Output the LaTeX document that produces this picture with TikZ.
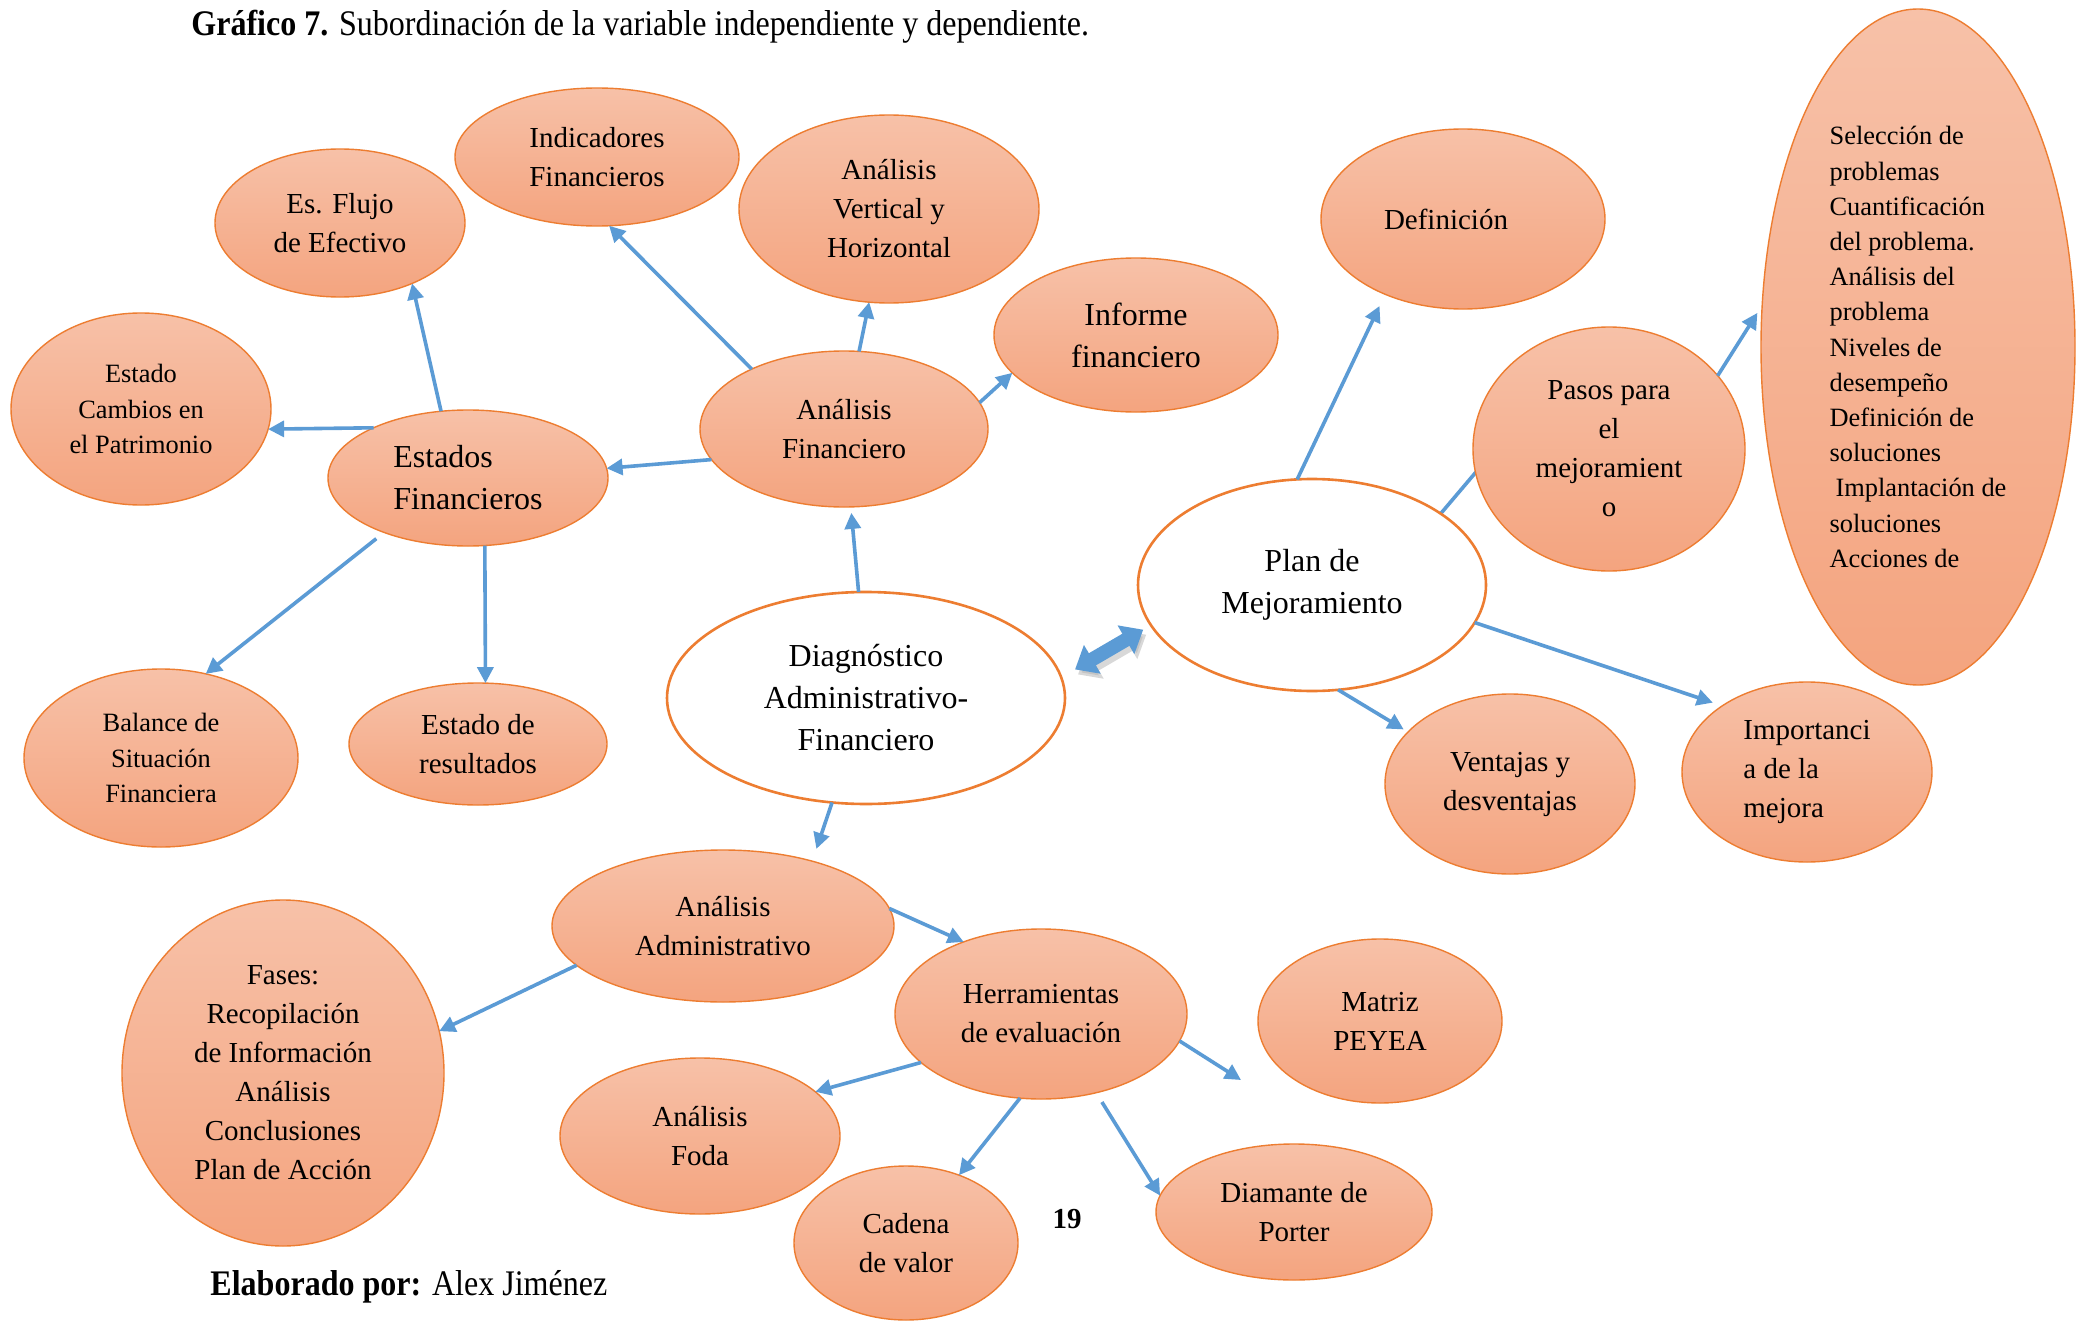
\documentclass[tikz,border=0pt]{standalone}
\usepackage{fontspec}
\setmainfont{Liberation Serif}
\newfontfamily\condserif[FakeStretch=0.89]{Liberation Serif}
\usetikzlibrary{shapes.geometric,arrows.meta,backgrounds}

\definecolor{peachtop}{HTML}{F7C1A8}
\definecolor{peachbot}{HTML}{F4A47F}
\definecolor{rimorange}{HTML}{ED7D31}
\definecolor{linkblue}{HTML}{5B9BD5}

\newcommand\fsbig{\fontsize{16}{21}\selectfont}
\newcommand\fsmid{\fontsize{14.5}{19.5}\selectfont}
\newcommand\fssmall{\fontsize{13.2}{17.6}\selectfont}

\tikzset{
  bub/.style={ellipse, draw=rimorange, line width=0.7pt,
    top color=peachtop, bottom color=peachbot,
    inner sep=0pt, outer sep=0pt, align=center, font=\fsmid},
  plainbub/.style={ellipse, draw=rimorange, line width=1.3pt, fill=white,
    inner sep=0pt, outer sep=0pt, align=center, font=\fsbig},
  sz/.style 2 args={minimum width=#1pt, minimum height=#2pt},
  link/.style={draw=linkblue, line width=1.8pt,
    -{Triangle[length=8pt,width=8pt]}},
  caption/.style={anchor=west, inner sep=0pt, font=\condserif\fontsize{18}{22}\selectfont},
}

\begin{document}
\begin{tikzpicture}[x=0.5pt, y=-0.5pt]
  \begin{scope}[on background layer]
    \fill[white] (0,0) rectangle (2084,1322);
  \end{scope}
  \useasboundingbox (0,0) rectangle (2084,1322);

  % captions
  \node[caption] (title) at (191,27) {\textbf{Gráfico 7.} Subordinación de la variable independiente y dependiente.};
  \node[caption] (author) at (210,1287) {\textbf{Elaborado por:} Alex Jiménez};
  \node[inner sep=0pt, font=\bfseries\fsmid] (page) at (1067,1219) {19};

  % financial branch
  \node[bub, sz={125}{74}] (flujo) at (340,223) {Es. Flujo\\de Efectivo};
  \node[bub, sz={142}{69}] (ind) at (597,157) {Indicadores\\Financieros};
  \node[bub, sz={150}{94}] (vert) at (889,209) {Análisis\\Vertical y\\Horizontal};
  \node[bub, sz={142}{77}, font=\fsbig] (inf) at (1136,335) {Informe\\financiero};
  \node[bub, sz={130}{96}, font=\fssmall] (camb) at (141,409) {Estado\\Cambios en\\el Patrimonio};
  \node[bub, sz={140}{68}, font=\fsbig, align=left] (ef) at (468,478) {Estados\\Financieros};
  \node[bub, sz={144}{78}] (af) at (844,429) {Análisis\\Financiero};
  \node[bub, sz={137}{89}, font=\fssmall] (bal) at (161,758) {Balance de\\Situación\\Financiera};
  \node[bub, sz={129}{61}] (res) at (478,744) {Estado de\\resultados};

  % central nodes
  \node[plainbub, sz={199}{106}] (diag) at (866,698) {Diagnóstico\\Administrativo-\\Financiero};
  \node[plainbub, sz={174}{106}] (plan) at (1312,585) {Plan de\\Mejoramiento};

  % improvement plan branch
  \node[bub, sz={142}{90}] (def) at (1463,219) {Definición\hspace*{17pt}};
  \node[bub, sz={157}{338}, font=\fssmall, align=left] (steps) at (1918,347)
    {Selección de\\problemas\\Cuantificación\\del problema.\\Análisis del\\problema\\Niveles de\\desempeño\\Definición de\\soluciones\\\hspace{3pt}Implantación de\\soluciones\\Acciones de};
  \node[bub, sz={136}{122}] (pasos) at (1609,449) {Pasos para\\el\\mejoramient\\o};
  \node[bub, sz={125}{90}] (vent) at (1510,784) {Ventajas y\\desventajas};
  \node[bub, sz={125}{90}, align=left] (imp) at (1807,772) {Importanci\\a de la\\mejora};

  % administrative branch
  \node[bub, sz={171}{76}] (aa) at (723,926) {Análisis\\Administrativo};
  \node[bub, sz={161}{173}] (fases) at (283,1073) {Fases:\\Recopilación\\de Información\\Análisis\\Conclusiones\\Plan de Acción};
  \node[bub, sz={146}{85}] (herr) at (1041,1014) {Herramientas\\de evaluación};
  \node[bub, sz={122}{82}] (matriz) at (1380,1021) {Matriz\\PEYEA};
  \node[bub, sz={140}{78}] (foda) at (700,1136) {Análisis\\Foda};
  \node[bub, sz={112}{77}] (cad) at (906,1243) {Cadena\\de valor};
  \node[bub, sz={138}{68}] (diam) at (1294,1212) {Diamante de\\Porter};
  \coordinate (matrizend) at (1241,1080);

  % connector that disappears under the "Pasos" bubble
  \begin{scope}[on background layer]
    \draw[link, -, shorten >=-12pt] (plan.29) -- (pasos.190);
  \end{scope}

  % connectors
  \draw[link] (ef.112) -- (flujo.-40);
  \draw[link] (ef.152) -- (camb.-9);
  \draw[link, shorten <=5pt] (ef.213) -- (bal.62);
  \draw[link] (ef.-76) -- (res.83);
  \draw[link] (af.193) -- (ef.4);
  \draw[link] (af.147) -- (ind.-80);
  \draw[link] (af.79) -- (vert.-102);
  \draw[link] (af.11) -- (inf.197);
  \draw[link, shorten >=3pt] (diag.94) -- (af.-85);
  \draw[link, shorten >=6.5pt] (diag.-108) -- (aa.36);
  \draw[link] (aa.195) -- (fases.15);
  \draw[link] (aa.6) -- (herr.137);
  \draw[link] (herr.-11) -- (matrizend);
  \draw[link] (herr.202) -- (foda.21);
  \draw[link] (herr.-104) -- (cad.52);
  \draw[link, shorten <=5.5pt] (herr.-55) -- (diam.173);
  \draw[link, shorten >=6.5pt] (plan.98) -- (def.224);
  \draw[link, shorten >=4.5pt] (pasos.34) -- (steps.165);
  \draw[link, shorten >=2.5pt] (plan.-76) -- (vent.153);
  \draw[link, shorten >=5pt] (plan.-13) -- (imp.142);

  % two-way block arrow between the central nodes
  \draw[gray!60, opacity=0.5, line width=7pt, shorten <=8pt, shorten >=4.5pt,
        {Triangle[length=10pt,width=16pt]}-{Triangle[length=10pt,width=16pt]}]
        ([xshift=1.5pt,yshift=-2.5pt]diag.6) -- ([xshift=1.5pt,yshift=-2.5pt]plan.194);
  \draw[linkblue, line width=7pt, shorten <=8pt, shorten >=4.5pt,
        {Triangle[length=10pt,width=16pt]}-{Triangle[length=10pt,width=16pt]}]
        (diag.6) -- (plan.194);
\end{tikzpicture}
\end{document}
